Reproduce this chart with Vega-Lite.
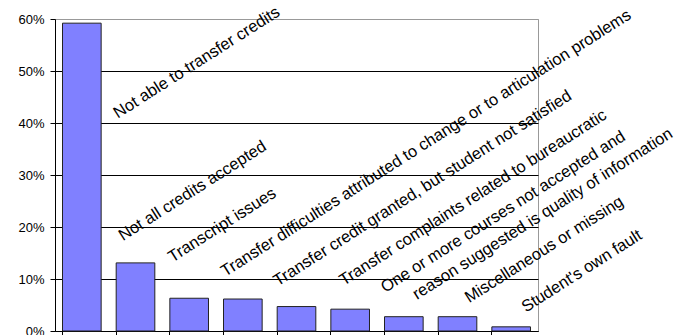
{
  "$schema": "https://vega.github.io/schema/vega-lite/v6.json",
  "width": 483,
  "height": 312,
  "autosize": {"type": "none"},
  "padding": {"left": 55, "top": 19, "right": 146, "bottom": 4},
  "background": "white",
  "config": {
    "font": "Liberation Sans",
    "view": {"stroke": "#999999", "strokeWidth": 1},
    "text": {"align": "left", "baseline": "alphabetic", "angle": -32.5, "fontSize": 16.5, "font": "Liberation Sans", "color": "black"}
  },
  "data": {
    "values": [
      {"reason": "Not able to transfer credits", "label": "Not able to transfer credits", "value": 0.592},
      {"reason": "Not all credits accepted", "label": "Not all credits accepted", "value": 0.131},
      {"reason": "Transcript issues", "label": "Transcript issues", "value": 0.063},
      {"reason": "Transfer difficulties", "label": "Transfer difficulties attributed to change or to articulation problems", "value": 0.0615},
      {"reason": "Transfer credit granted", "label": "Transfer credit granted, but student not satisfied", "value": 0.047},
      {"reason": "Transfer complaints", "label": "Transfer complaints related to bureaucratic", "value": 0.042},
      {"reason": "One or more courses", "label": ["One or more courses not accepted and", "reason suggested is quality of information"], "value": 0.0275},
      {"reason": "Miscellaneous", "label": "Miscellaneous or missing", "value": 0.0275},
      {"reason": "Student's own fault", "label": "Student's own fault", "value": 0.008}
    ]
  },
  "encoding": {
    "x": {
      "field": "reason",
      "type": "nominal",
      "sort": null,
      "scale": {"paddingInner": 0.28, "paddingOuter": 0.14},
      "axis": {
        "title": null,
        "labels": false,
        "bandPosition": 0,
        "domainColor": "black",
        "tickColor": "black",
        "tickSize": 5,
        "grid": false
      }
    },
    "y": {
      "field": "value",
      "type": "quantitative",
      "scale": {"domain": [0, 0.6], "nice": false},
      "axis": {
        "title": null,
        "values": [0, 0.1, 0.2, 0.3, 0.4, 0.5, 0.6],
        "format": ".0%",
        "labelFont": "Liberation Sans",
        "labelFontSize": 13,
        "labelColor": "black",
        "labelPadding": 6,
        "tickSize": 5,
        "tickColor": "black",
        "domainColor": "black",
        "grid": true,
        "gridColor": {"condition": {"test": "datum.value >= 0.6", "value": "#999999"}, "value": "black"},
        "gridOpacity": 1
      }
    },
    "text": {"field": "label"}
  },
  "layer": [
    {
      "mark": {"type": "bar", "color": "#8080FF", "stroke": "#222222", "strokeWidth": 1},
      "encoding": {"text": null}
    },
    {
      "transform": [{"filter": "datum.reason == 'Not able to transfer credits'"}],
      "mark": {"type": "text", "dx": -21, "dy": 100}
    },
    {
      "transform": [{"filter": "datum.reason == 'Not all credits accepted'"}],
      "mark": {"type": "text", "dx": 1, "dy": -25}
    },
    {
      "transform": [{"filter": "datum.reason == 'Transcript issues'"}],
      "mark": {"type": "text", "dx": 5, "dy": -39}
    },
    {
      "transform": [{"filter": "datum.reason == 'Transfer difficulties'"}],
      "mark": {"type": "text", "dx": -3, "dy": -28}
    },
    {
      "transform": [{"filter": "datum.reason == 'Transfer credit granted'"}],
      "mark": {"type": "text", "dx": -5, "dy": -27}
    },
    {
      "transform": [{"filter": "datum.reason == 'Transfer complaints'"}],
      "mark": {"type": "text", "dx": 7, "dy": -23}
    },
    {
      "transform": [{"filter": "datum.reason == 'One or more courses'"}],
      "mark": {"type": "text", "dx": -3, "dy": -30},
      "encoding": {"text": {"field": "label[0]"}}
    },
    {
      "transform": [{"filter": "datum.reason == 'One or more courses'"}],
      "mark": {"type": "text", "dx": 20, "dy": -7},
      "encoding": {"text": {"field": "label[1]"}}
    },
    {
      "transform": [{"filter": "datum.reason == 'Miscellaneous'"}],
      "mark": {"type": "text", "dx": 17, "dy": -5}
    },
    {
      "transform": [{"filter": "datum.reason == \"Student's own fault\""}],
      "mark": {"type": "text", "dx": 20, "dy": -4}
    }
  ]
}
